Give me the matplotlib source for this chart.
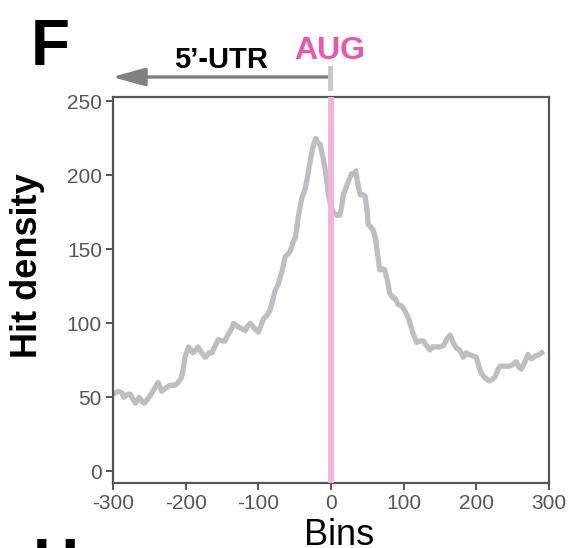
import matplotlib.pyplot as plt
from matplotlib.patches import FancyArrowPatch

# metagene profile around the start codon
bins = [-300, -293, -288, -285, -280, -276, -272, -269, -264, -260, -257, -252, -249, -244,
        -238, -233, -228, -222, -216, -212, -206, -203, -201, -196, -190, -186, -183, -178,
        -173, -168, -164, -160, -155, -149, -146, -141, -137, -134, -129, -125, -118, -115,
        -111, -106, -100, -96, -93, -87, -84, -80, -77, -73, -70, -67, -63, -59, -56, -52,
        -49, -45, -40, -36, -33, -31, -27, -24, -21, -18, -15, -11, -8, -6, -3, -1, 3, 8,
        12, 15, 17, 21, 24, 28, 32, 34, 37, 40, 44, 47, 50, 51, 55, 58, 61, 63, 67, 70, 74,
        78, 81, 86, 88, 92, 96, 100, 104, 106, 110, 113, 118, 122, 127, 130, 136, 140, 143,
        150, 155, 160, 164, 168, 173, 177, 182, 186, 189, 195, 200, 204, 207, 212, 218, 222,
        226, 230, 233, 240, 246, 250, 255, 259, 262, 266, 271, 273, 276, 282, 287, 290]
density = [52, 54, 53, 50, 52, 52, 48, 46, 50, 47, 46, 49, 51, 55,
           60, 54, 56, 58, 58, 59, 63, 70, 77, 84, 80, 82, 84, 80,
           77, 80, 80, 84, 89, 88, 88, 93, 96, 100, 98, 97, 95, 98,
           100, 97, 94, 99, 103, 106, 109, 116, 122, 126, 131, 136, 145, 147, 149, 155,
           158, 172, 185, 190, 197, 203, 214, 221, 225, 222, 221, 212, 204, 197, 186, 181, 175, 173,
           173, 180, 187, 192, 196, 201, 201, 203, 194, 187, 187, 186, 175, 167, 165, 163, 158, 151, 136, 137, 136,
           128, 120, 117, 117, 113, 112, 110, 106, 104, 98, 93, 87, 88, 88, 86, 82, 84, 84,
           84, 85, 90, 92, 87, 83, 82, 77, 80, 79, 78, 77, 70, 66, 63, 61, 62,
           64, 69, 71, 71, 71, 72, 74, 70, 69, 73, 79, 77, 76, 78, 79, 80]
xticks = [-300, -200, -100, 0, 100, 200, 300]
yticks = [0, 50, 100, 150, 200, 250]

W, H = 571, 548
plt.rcParams['font.family'] = ['Liberation Sans', 'DejaVu Sans']
plt.rcParams['axes.unicode_minus'] = False
fig = plt.figure(figsize=(W / 100, H / 100), dpi=100)
ax = fig.add_axes([113 / W, 1 - 483 / H, 436 / W, 386 / H])

ax.plot(bins, density, color='#bdbec1', lw=3.8, solid_joinstyle='round', zorder=2)
ax.axvline(0, color='#f7b1d9', lw=4.2, zorder=3)

ax.set_xlim(-300, 300)
ax.set_ylim(-8, 253)
ax.set_xticks(xticks)
ax.set_yticks(yticks)
for s in ax.spines.values():
    s.set_color('#555555')
    s.set_linewidth(1.6)
ax.tick_params(direction='out', length=5, width=1.4, color='#555555',
               labelcolor='#555555', labelsize=15, pad=3)

def fx(x):
    return x / W

def fy(y):
    return 1 - y / H

# axis titles placed by hand like the source figure
fig.text(fx(339), fy(545), 'Bins', fontsize=26, ha='center', va='baseline')
fig.text(fx(28), fy(266), 'Hit density', fontsize=26, fontweight='bold',
         rotation=90, ha='center', va='center')

fig.text(fx(31), fy(65), 'F', fontsize=46, fontweight='bold', va='baseline')
fig.text(fx(33), fy(537), 'H', fontsize=46, fontweight='bold', va='top')
fig.text(fx(221), fy(68), '5\u2019-UTR', fontsize=21, fontweight='bold',
         ha='center', va='baseline')
fig.text(fx(329.5), fy(59), 'AUG', fontsize=23, fontweight='bold', color='#f052ac',
         ha='center', va='baseline')

arrow = FancyArrowPatch((fx(330), fy(77)), (fx(112), fy(77)), transform=fig.transFigure,
                        arrowstyle='-|>,head_length=2.0,head_width=0.55', mutation_scale=10,
                        lw=2.4, color='#808080', shrinkA=0, shrinkB=0)
fig.add_artist(arrow)
fig.add_artist(plt.Line2D([fx(330), fx(330)], [fy(68), fy(88)], transform=fig.transFigure,
                          color='#c8c8c8', lw=3.5))

fig.savefig('out.png', dpi=100)
